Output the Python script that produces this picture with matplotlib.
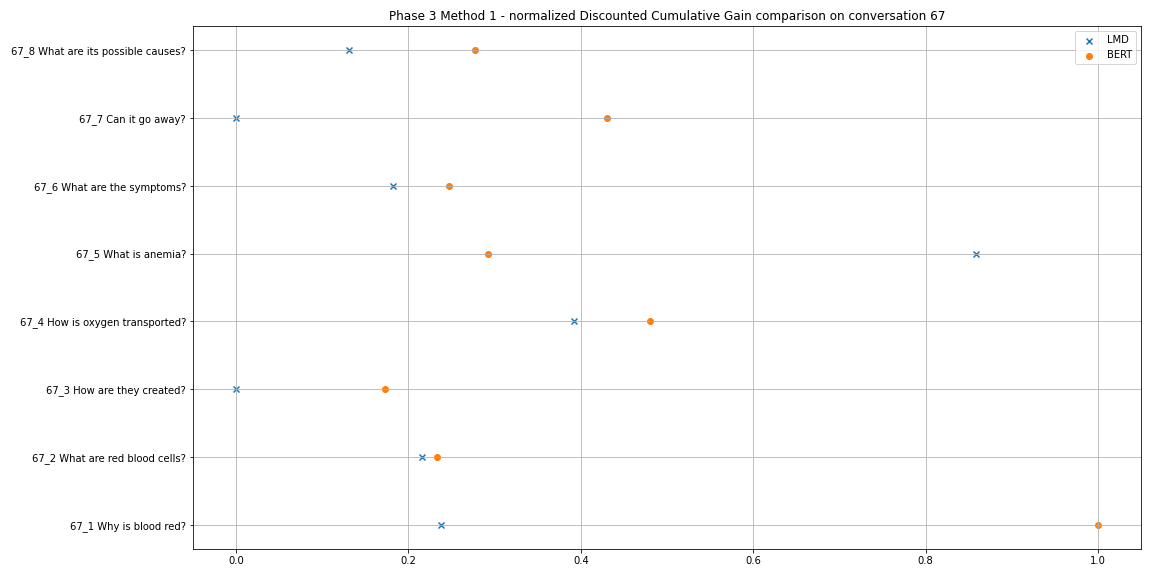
import matplotlib
matplotlib.use("Agg")
import matplotlib.pyplot as plt

# queries of conversation 67 (bottom to top)
queries = [
    "67_1 Why is blood red?",
    "67_2 What are red blood cells?",
    "67_3 How are they created?",
    "67_4 How is oxygen transported?",
    "67_5 What is anemia?",
    "67_6 What are the symptoms?",
    "67_7 Can it go away?",
    "67_8 What are its possible causes?",
]

# nDCG scores per method
lmd_scores = [0.238, 0.216, 0.0, 0.3925, 0.859, 0.182, 0.0, 0.131]
bert_scores = [1.0, 0.233, 0.173, 0.480, 0.2925, 0.247, 0.430, 0.277]

fig, ax = plt.subplots(figsize=(16, 8), dpi=72)
ax.scatter(lmd_scores, queries, marker='x', label='LMD')
ax.scatter(bert_scores, queries, marker='o', label='BERT')
ax.set_title('Phase 3 Method 1 - normalized Discounted Cumulative Gain comparison on conversation 67')
ax.grid(True)
ax.legend(loc='upper right')
fig.subplots_adjust(left=0.1675, right=0.9905, top=0.9543, bottom=0.0477)
fig.savefig('out.png')
